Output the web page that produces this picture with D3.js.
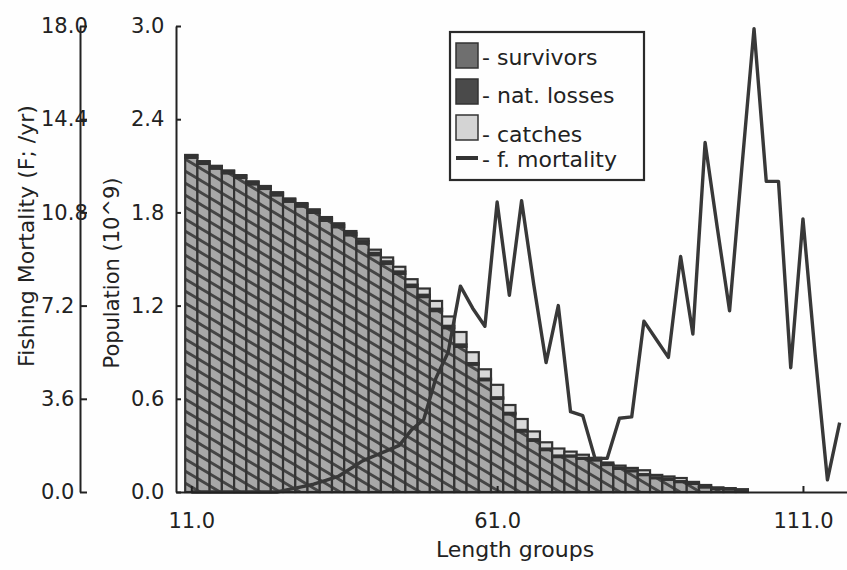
<!DOCTYPE html>
<html>
<head>
<meta charset="utf-8">
<script src="https://cdn.jsdelivr.net/npm/d3@7"></script>
<style>
  body { margin: 0; background: #fefefe; }
  text { font-family: "DejaVu Sans", sans-serif; fill: #222; }
</style>
</head>
<body>
<svg id="chart" width="847" height="570"></svg>
<script>
// Length groups (cm), two-unit classes
const lengthGroups = [11,13,15,17,19,21,23,25,27,29,31,33,35,37,39,41,43,45,47,49,
  51,53,55,57,59,61,63,65,67,69,71,73,75,77,79,81,83,85,87,89,
  91,93,95,97,99,101,103,105,107,109,111,113,115,117];

// Population components per length group (10^9)
const survivors = [2.152,2.112,2.082,2.052,2.022,1.981,1.951,1.910,1.869,1.838,
  1.797,1.746,1.705,1.653,1.600,1.525,1.470,1.405,1.320,1.255,
  1.165,1.055,0.935,0.820,0.720,0.600,0.500,0.390,0.330,0.270,
  0.225,0.229,0.214,0.204,0.174,0.149,0.134,0.109,0.089,0.079,
  0.064,0.052,0.030,0.019,0.017,0.011,0,0,0,0,0,0,0,0];
const natLosses = [0.015,0.015,0.015,0.015,0.015,0.015,0.015,0.015,0.015,0.015,
  0.015,0.015,0.015,0.015,0.015,0.015,0.015,0.015,0.015,0.015,
  0.015,0.015,0.015,0.010,0.010,0.010,0.010,0.010,0.010,0.010,
  0.010,0.006,0.006,0.006,0.006,0.006,0.006,0.006,0.006,0.006,
  0.006,0.003,0.003,0.003,0.003,0.003,0,0,0,0,0,0,0,0];
const catches = [0.003,0.003,0.003,0.003,0.003,0.004,0.004,0.005,0.006,0.007,
  0.008,0.009,0.010,0.012,0.015,0.020,0.025,0.030,0.035,0.040,
  0.050,0.060,0.080,0.070,0.060,0.080,0.050,0.070,0.050,0.040,
  0.045,0.025,0.020,0.010,0.010,0.015,0.015,0.025,0.015,0.015,
  0.020,0.010,0.012,0.008,0.005,0.004,0,0,0,0,0,0,0,0];

// Fishing mortality per length group (F; /yr)
const fMortality = [0,0,0,0,0,0,0,0,0.1,0.2,
  0.3,0.45,0.6,0.9,1.2,1.4,1.6,1.8,2.4,2.8,
  4.4,5.4,7.95,7.1,6.4,11.2,7.6,11.25,8.0,5.0,
  7.2,3.1,2.95,1.3,1.3,2.85,2.9,6.6,5.9,5.2,
  9.1,6.1,13.5,10.2,7.0,12.5,17.9,12.0,12.0,4.8,
  10.55,5.3,0.47,2.68];

const popTicks = [0, 0.6, 1.2, 1.8, 2.4, 3.0];
const fTicks = [0, 3.6, 7.2, 10.8, 14.4, 18.0];
const lengthTicks = [11, 61, 111];
const legendLabels = ["- survivors", "- nat. losses", "- catches", "- f. mortality"];
const keys = ["survivors", "natLosses", "catches"];

const svg = d3.select("#chart");

const x = d3.scaleLinear().domain([8.5, 118.2]).range([176, 847]);
const yPop = d3.scaleLinear().domain([0, 3]).range([492, 26]);
const yF = d3.scaleLinear().domain([0, 18]).range([492, 26]);

// hatch pattern for survivors
const defs = svg.append("defs");
const pat = defs.append("pattern")
  .attr("id", "hatch").attr("patternUnits", "userSpaceOnUse")
  .attr("width", 20).attr("height", 12);
pat.append("rect").attr("width", 20).attr("height", 12).attr("fill", "#a8a8a8");
pat.append("path")
  .attr("d", "M-20,-12L40,24M-20,0L40,36M-20,-24L40,12")
  .attr("stroke", "#454545").attr("stroke-width", 2.8);

const rows = lengthGroups.map((L, i) => ({
  L, survivors: survivors[i], natLosses: natLosses[i], catches: catches[i]
}));
const stacked = d3.stack().keys(keys)(rows);
const fills = { survivors: "url(#hatch)", natLosses: "#505050", catches: "#d9d9d9" };
const bw = x(13) - x(11);

svg.append("g").selectAll("g")
  .data(stacked)
  .join("g")
  .attr("fill", d => fills[d.key])
  .selectAll("rect")
  .data(d => d.filter(s => s[1] - s[0] > 0))
  .join("rect")
  .attr("x", s => x(s.data.L) - bw / 2)
  .attr("width", bw)
  .attr("y", s => yPop(s[1]))
  .attr("height", s => yPop(s[0]) - yPop(s[1]))
  .attr("stroke", "#333")
  .attr("stroke-width", 2.2);

// fishing mortality line
const line = d3.line().x((d, i) => x(lengthGroups[i])).y(d => yF(d));
svg.append("path")
  .datum(fMortality)
  .attr("d", line)
  .attr("fill", "none")
  .attr("stroke", "#383838")
  .attr("stroke-width", 3.4)
  .attr("stroke-linejoin", "round");

function styleAxis(g) {
  g.selectAll("path, line").attr("stroke", "#222").attr("stroke-width", 2);
  g.selectAll("text").attr("font-family", "DejaVu Sans").attr("font-size", 21).attr("fill", "#222");
}

// fishing mortality axis
const gF = svg.append("g").attr("transform", "translate(80,0)")
  .call(d3.axisRight(yF).tickValues(fTicks).tickSize(7).tickSizeOuter(0).tickFormat(d3.format(".1f")));
styleAxis(gF);
gF.selectAll("text").attr("x", -39).attr("text-anchor", "start");

// population axis
const gP = svg.append("g").attr("transform", "translate(176,0)")
  .call(d3.axisRight(yPop).tickValues(popTicks).tickSize(5).tickSizeOuter(0).tickFormat(d3.format(".1f")));
styleAxis(gP);
gP.selectAll("text").attr("x", -45).attr("text-anchor", "start");

// length axis
const gX = svg.append("g").attr("transform", "translate(0,492)")
  .call(d3.axisBottom(x).tickValues(lengthTicks).tickSize(-6).tickSizeOuter(0).tickPadding(21).tickFormat(d3.format(".1f")));
styleAxis(gX);

// axis titles
svg.append("text")
  .attr("transform", "translate(34,236) rotate(-90)")
  .attr("text-anchor", "middle").attr("font-size", 22)
  .text("Fishing Mortality (F; /yr)");
svg.append("text")
  .attr("transform", "translate(119,273) rotate(-90)")
  .attr("text-anchor", "middle").attr("font-size", 21)
  .text("Population (10^9)");
svg.append("text")
  .attr("x", 515).attr("y", 557)
  .attr("text-anchor", "middle").attr("font-size", 22)
  .text("Length groups");

// legend
const lg = svg.append("g");
lg.append("rect").attr("x", 450).attr("y", 32).attr("width", 194).attr("height", 148)
  .attr("fill", "#fefefe").attr("stroke", "#2a2a2a").attr("stroke-width", 2.2);
const swatchFills = ["#6f6f6f", "#4a4a4a", "#d4d4d4"];
const swatchY = [43, 79, 115];
swatchY.forEach((yy, i) => {
  lg.append("rect").attr("x", 456).attr("y", yy).attr("width", 22).attr("height", 25)
    .attr("fill", swatchFills[i]).attr("stroke", "#333").attr("stroke-width", 1.5);
});
lg.append("line").attr("x1", 456).attr("x2", 478).attr("y1", 158).attr("y2", 158)
  .attr("stroke", "#333").attr("stroke-width", 4);
const textY = [65, 103, 142, 167];
legendLabels.forEach((t, i) => {
  lg.append("text").attr("x", 482).attr("y", textY[i]).attr("font-size", 22).text(t);
});
</script>
</body>
</html>
